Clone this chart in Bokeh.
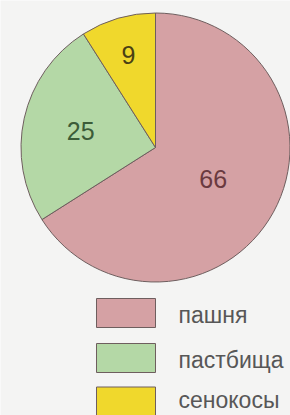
import math
from bokeh.plotting import figure
from bokeh.models import ColumnDataSource, Range1d
from bokeh.core.properties import value
from bokeh.embed import file_html
from bokeh.resources import INLINE

# data
categories = ["пашня", "пастбища", "сенокосы"]
values = [66, 25, 9]
colors = ["#d5a1a4", "#b4d8a6", "#f0d82c"]
label_colors = ["#6a3a40", "#3c5c38", "#4a4014"]
label_radius = [0.49, 0.57, 0.72]   # fraction of radius (layout)

W, H = 290, 415
cx, cy, R = 155, 268, 134.5

total = float(sum(values))
# slices go counter-clockwise from the top, in reverse order
starts, ends = [0.0] * len(values), [0.0] * len(values)
a = math.pi / 2
for i in reversed(range(len(values))):
    starts[i] = a
    a += 2 * math.pi * values[i] / total
    ends[i] = a

src = ColumnDataSource(dict(cat=categories, val=values, color=colors,
                            start=starts, end=ends))

p = figure(width=W, height=H, output_backend="svg", toolbar_location=None,
           x_range=Range1d(0, W), y_range=Range1d(0, H), min_border=0)
p.axis.visible = False
p.grid.visible = False
p.outline_line_color = None
p.background_fill_color = "#f4f4f3"
p.border_fill_color = "#f4f4f3"

p.wedge(x=cx, y=cy, radius=R, start_angle="start", end_angle="end",
        fill_color="color", line_color="#6e5e5e", line_width=1, source=src)

lx, ly, ltxt = [], [], []
for i, v in enumerate(values):
    mid = (starts[i] + ends[i]) / 2
    lx.append(cx + label_radius[i] * R * math.cos(mid))
    ly.append(cy + label_radius[i] * R * math.sin(mid))
    ltxt.append(str(v))
p.text(x=lx, y=ly, text=ltxt, text_color=label_colors,
       text_font=value("Liberation Sans"), text_font_size="25px",
       text_align="center", text_baseline="middle")

# legend
box_x = 125.5
box_y = [102.5, 57.5, 14]
text_y = [100.5, 55.5, 16]
p.rect(x=[box_x] * 3, y=box_y, width=59, height=29, fill_color=colors,
       line_color="#6e5e5e", line_width=1)
p.text(x=[178] * 3, y=text_y, text=categories,
       text_color="#575757", text_font=value("Liberation Sans"),
       text_font_size="23px", text_align="left", text_baseline="middle")

open("out.html", "w").write(file_html(p, INLINE))
